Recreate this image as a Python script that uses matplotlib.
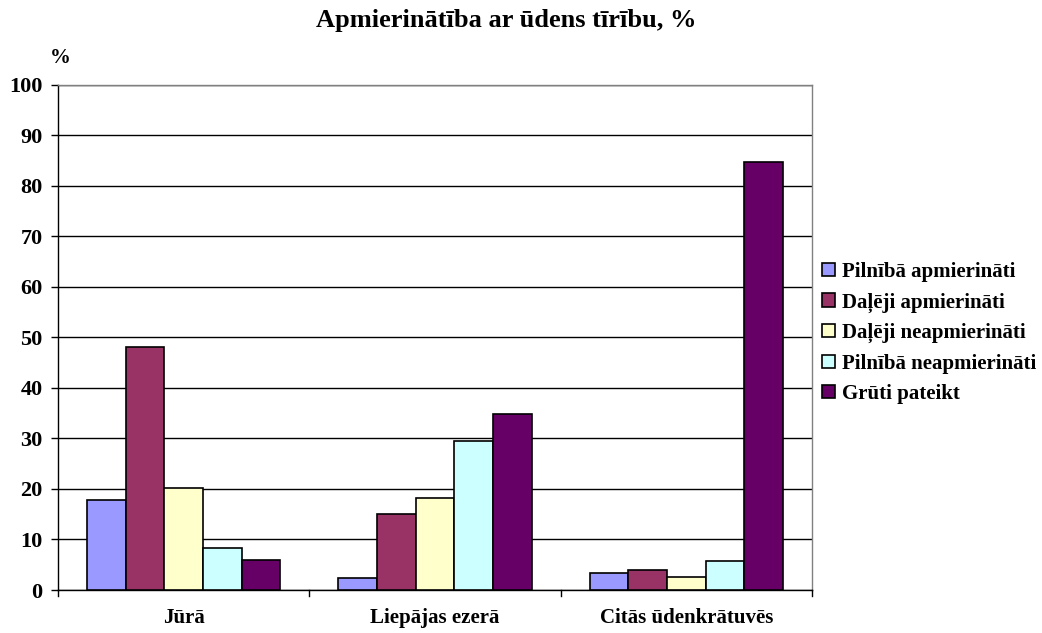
import matplotlib
matplotlib.use("Agg")
import matplotlib.pyplot as plt
import numpy as np
from matplotlib.patches import Patch

plt.rcParams['font.family'] = ['Liberation Serif', 'DejaVu Serif']

categories = ["Jūrā", "Liepājas ezerā", "Citās ūdenkrātuvēs"]
series_names = ["Pilnībā apmierināti", "Daļēji apmierināti", "Daļēji neapmierināti",
                "Pilnībā neapmierināti", "Grūti pateikt"]
values = {
    "Pilnībā apmierināti": [17.8, 2.4, 3.4],
    "Daļēji apmierināti": [48.1, 15.0, 4.0],
    "Daļēji neapmierināti": [20.2, 18.2, 2.6],
    "Pilnībā neapmierināti": [8.3, 29.4, 5.7],
    "Grūti pateikt": [5.9, 34.9, 84.7],
}
colors = ["#9999FF", "#993366", "#FFFFCC", "#CCFFFF", "#660066"]
yticks = list(range(0, 101, 10))

fig = plt.figure(figsize=(10.42, 6.33), dpi=100)
ax = fig.add_axes([58/1042, 1 - 590/633, (812-58)/1042, (590-84.5)/633])

n = len(series_names)
bw = 1 / 6.5
x = np.arange(len(categories))
for i, name in enumerate(series_names):
    offs = (i - (n - 1) / 2) * bw
    ax.bar(x + offs, values[name], width=bw, color=colors[i], edgecolor="black",
           linewidth=1.2, zorder=3)

ax.set_xlim(-0.5, len(categories) - 0.5)
ax.set_ylim(0, 100)
ax.set_yticks(yticks)
ax.set_yticklabels([str(t) for t in yticks], fontsize=16, fontweight="bold")
ax.set_xticks(x)
ax.set_xticklabels(categories, fontsize=15, fontweight="bold")
ax.tick_params(axis="x", length=0, pad=13)
ax.tick_params(axis="y", direction="out", length=5, width=1, pad=6)
for b in np.arange(-0.5, len(categories), 1.0):
    ax.plot([b, b], [0, -1.2], color="black", lw=1, clip_on=False, zorder=4)

ax.yaxis.grid(True, color="black", linewidth=1, zorder=0)
ax.set_axisbelow(True)
ax.spines["left"].set_color("black")
ax.spines["bottom"].set_color("black")
ax.spines["top"].set_color("#808080")
ax.spines["right"].set_color("#808080")
for s in ax.spines.values():
    s.set_linewidth(1)

fig.text(0.5 * (314 + 699) / 1042, 1 - 20 / 633, "Apmierinātība ar ūdens tīrību, %",
         ha="center", va="center", fontsize=19, fontweight="bold")
fig.text(60 / 1042, 1 - 58 / 633, "%", ha="center", va="center", fontsize=15, fontweight="bold")

handles = [Patch(facecolor=c, edgecolor="black", linewidth=1.2) for c in colors]
leg = fig.legend(handles, series_names, loc="center left",
                 bbox_to_anchor=(822 / 1042, 1 - 333 / 633), frameon=False,
                 prop={"size": 15, "weight": "bold"}, handlelength=0.6,
                 handleheight=0.6, handletextpad=0.35, labelspacing=0.5,
                 borderaxespad=0, borderpad=0)

fig.savefig("out.png", dpi=100)
